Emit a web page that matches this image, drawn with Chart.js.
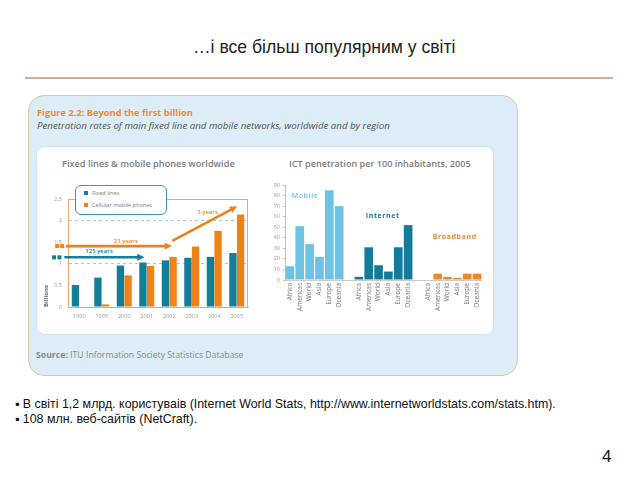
<!DOCTYPE html>
<html>
<head>
<meta charset="utf-8">
<script src="https://cdn.jsdelivr.net/npm/chart.js@4"></script>
<style>
  html, body { margin: 0; padding: 0; background: #fff; }
  body { width: 640px; height: 480px; position: relative; overflow: hidden; font-family: "Liberation Sans", Arial, sans-serif; }
  .abs { position: absolute; white-space: nowrap; }
  .fig { font-family: "Open Sans", sans-serif; }
  canvas { position: absolute; }
</style>
</head>
<body>
<div class="abs" style="left:193px;top:37px;font-size:17.6px;color:#222;">…і все більш популярним у світі</div>
<div class="abs" style="left:25px;top:77px;width:588px;height:2px;background:#dca79b;"></div>

<div class="abs" style="left:28px;top:95px;width:488px;height:279px;background:#dcedf7;border:1px solid #dacbab;border-radius:16px;"></div>
<div class="abs fig" style="left:37px;top:106px;font-size:9.3px;font-weight:700;color:#ee8c3a;">Figure 2.2: Beyond the first billion</div>
<div class="abs fig" style="left:37px;top:119px;font-size:9.7px;font-style:italic;color:#555;">Penetration rates of main fixed line and mobile networks, worldwide and by region</div>
<div class="abs" style="left:36px;top:146px;width:456px;height:187px;background:#fff;border:1px solid #cfe3ee;border-radius:9px;"></div>
<div class="abs fig" style="left:62px;top:157px;font-size:9.2px;font-weight:600;color:#7d7d7d;">Fixed lines &amp; mobile phones worldwide</div>
<div class="abs fig" style="left:289px;top:157px;font-size:9.1px;font-weight:600;color:#7d7d7d;">ICT penetration per 100 inhabitants, 2005</div>
<div class="abs fig" style="left:36px;top:349px;font-size:8.7px;color:#8a8a8a;"><b>Source:</b> ITU Information Society Statistics Database</div>

<canvas id="leftChart" width="224" height="140" style="left:36px;top:185px;"></canvas>
<canvas id="rightChart" width="222" height="155" style="left:266px;top:175px;"></canvas>

<div class="abs fig" style="left:75px;top:185px;width:90px;height:28px;background:#fff;border:1px solid #3c98ae;border-radius:6px;font-size:5.6px;color:#777;">
  <div class="abs" style="left:8px;top:5px;width:4px;height:4px;background:#127f98;"></div>
  <div class="abs" style="left:16px;top:3px;">Fixed lines</div>
  <div class="abs" style="left:8px;top:17px;width:4px;height:4px;background:#ef8216;"></div>
  <div class="abs" style="left:16px;top:15px;">Cellular mobile phones</div>
</div>

<div class="abs" style="left:15px;top:397px;font-size:12.4px;color:#111;">▪ В світі 1,2 млрд. користуваів (Internet World Stats, http://www.internetworldstats.com/stats.htm).</div>
<div class="abs" style="left:15px;top:412px;font-size:12.4px;color:#111;">▪ 108 млн. веб-сайтів (NetCraft).</div>
<div class="abs" style="left:602px;top:447px;font-size:17px;color:#111;">4</div>

<script>
const years = ['1990', '1995', '2000', '2001', '2002', '2003', '2004', '2005'];
const fixedLines = [0.51, 0.68, 0.96, 1.03, 1.08, 1.14, 1.16, 1.25];
const mobilePhones = [0.01, 0.06, 0.73, 0.95, 1.16, 1.40, 1.76, 2.14];
const billionTicks = [0, 0.5, 1, 1.5, 2, 2.5];

const regions = ['Africa', 'Americas', 'World', 'Asia', 'Europe', 'Oceania'];
const mobilePer100 = [13, 51, 34, 22, 85, 70];
const internetPer100 = [3, 31, 14, 8, 31, 52];
const broadbandPer100 = [0, 6, 3, 2, 6, 6];
const per100Ticks = [0, 10, 20, 30, 40, 50, 60, 70, 80, 90];

const TEAL = '#127f98';
const ORANGE = '#ef8216';
const FONT = 'Open Sans';

Chart.defaults.font.family = FONT;
Chart.defaults.color = '#888';

const arrow = (ctx, x1, y1, x2, y2, color) => {
  const ang = Math.atan2(y2 - y1, x2 - x1);
  const head = 8;
  ctx.strokeStyle = color;
  ctx.fillStyle = color;
  ctx.lineWidth = 2.6;
  ctx.beginPath();
  ctx.moveTo(x1, y1);
  ctx.lineTo(x2 - Math.cos(ang) * head * 0.8, y2 - Math.sin(ang) * head * 0.8);
  ctx.stroke();
  ctx.beginPath();
  ctx.moveTo(x2, y2);
  ctx.lineTo(x2 - head * Math.cos(ang - 0.45), y2 - head * Math.sin(ang - 0.45));
  ctx.lineTo(x2 - head * Math.cos(ang + 0.45), y2 - head * Math.sin(ang + 0.45));
  ctx.closePath();
  ctx.fill();
};

const leftDecor = {
  id: 'leftDecor',
  beforeDatasetsDraw(chart) {
    const { ctx, scales: { y }, chartArea: a } = chart;
    ctx.save();
    ctx.strokeStyle = '#f2a566';
    ctx.lineWidth = 1;
    ctx.beginPath();
    ctx.moveTo(a.left, y.getPixelForValue(2.5) + 0.5);
    ctx.lineTo(a.right, y.getPixelForValue(2.5) + 0.5);
    ctx.moveTo(a.right - 0.5, a.top);
    ctx.lineTo(a.right - 0.5, a.bottom);
    ctx.stroke();
    ctx.restore();
  },
  afterDatasetsDraw(chart) {
    const { ctx, scales: { x, y } } = chart;
    ctx.save();
    // 125 years
    const yt = y.getPixelForValue(1.15);
    ctx.fillStyle = TEAL;
    [-1.12, -0.88].forEach(i => ctx.fillRect(x.getPixelForValue(i) - 2, yt - 2, 4, 4));
    arrow(ctx, x.getPixelForValue(-0.66), yt, x.getPixelForValue(2.9), yt, TEAL);
    // 21 years
    const yo = y.getPixelForValue(1.41);
    ctx.fillStyle = ORANGE;
    [-0.98, -0.76].forEach(i => ctx.fillRect(x.getPixelForValue(i) - 2, yo - 2, 4, 4));
    arrow(ctx, x.getPixelForValue(-0.6), yo, x.getPixelForValue(4.12), yo, ORANGE);
    // 3 years
    arrow(ctx, x.getPixelForValue(4.13), y.getPixelForValue(1.53), x.getPixelForValue(7.02), y.getPixelForValue(2.33), ORANGE);

    ctx.font = '600 6px ' + FONT;
    ctx.textAlign = 'center';
    ctx.textBaseline = 'middle';
    ctx.fillStyle = TEAL;
    ctx.fillText('125 years', x.getPixelForValue(0.88), y.getPixelForValue(1.28));
    ctx.fillStyle = ORANGE;
    ctx.fillText('21 years', x.getPixelForValue(2.07), y.getPixelForValue(1.52));
    ctx.fillText('3 years', x.getPixelForValue(5.7), y.getPixelForValue(2.2));
    ctx.restore();
  }
};

new Chart(document.getElementById('leftChart'), {
  type: 'bar',
  data: {
    labels: years,
    datasets: [
      { label: 'Fixed lines', data: fixedLines, backgroundColor: TEAL },
      { label: 'Cellular mobile phones', data: mobilePhones, backgroundColor: ORANGE }
    ]
  },
  options: {
    responsive: false,
    animation: false,
    devicePixelRatio: 1,
    layout: { padding: { left: 7, right: 12, top: 14, bottom: 0 } },
    datasets: { bar: { categoryPercentage: 0.68, barPercentage: 0.96 } },
    plugins: { legend: { display: false }, tooltip: { enabled: false } },
    scales: {
      x: {
        grid: { display: false, drawTicks: false },
        border: { color: '#f2a566' },
        ticks: { font: { size: 5.5 }, color: '#999', padding: 6 },
        afterFit: s => { s.height = 18; }
      },
      y: {
        min: 0, max: 2.5,
        afterBuildTicks: s => { s.ticks = billionTicks.map(v => ({ value: v })); },
        ticks: { font: { size: 5.5 }, color: '#999', padding: 6, callback: v => String(v) },
        grid: {
          drawTicks: false,
          color: c => (c.tick && (c.tick.value === 1 || c.tick.value === 2)) ? '#9fcbd8' : 'rgba(0,0,0,0)'
        },
        border: { color: '#f2a566', dash: [3, 3] },
        title: { display: true, text: 'Billions', align: 'start', font: { size: 6, weight: '700' }, color: '#666', padding: 0 },
        afterFit: s => { s.width = 25; }
      }
    }
  },
  plugins: [leftDecor]
});

const gap = [''];
const slotLabels = [...regions, ...gap, ...regions, ...gap, ...regions];
const placeGroup = (vals, group) => slotLabels.map((_, i) => {
  const start = group * 7;
  return (i >= start && i < start + 6) ? vals[i - start] : null;
});

const rightDecor = {
  id: 'rightDecor',
  afterDatasetsDraw(chart) {
    const { ctx, scales: { x, y } } = chart;
    ctx.save();
    ctx.font = '600 7px ' + FONT;
    ctx.textBaseline = 'middle';
    ctx.fillStyle = '#6cc3e4';
    ctx.letterSpacing = '0.6px';
    ctx.fillText('Mobile', x.getPixelForValue(0.18), y.getPixelForValue(79.5));
    ctx.font = '700 7px ' + FONT;
    ctx.fillStyle = '#1b7895';
    ctx.fillText('Internet', x.getPixelForValue(7.7), y.getPixelForValue(61));
    ctx.fillStyle = '#ee8a2a';
    ctx.fillText('Broadband', x.getPixelForValue(14.5), y.getPixelForValue(40.5));
    ctx.restore();
  }
};

new Chart(document.getElementById('rightChart'), {
  type: 'bar',
  data: {
    labels: slotLabels,
    datasets: [
      { label: 'Mobile', data: placeGroup(mobilePer100, 0), backgroundColor: '#6cc3e4' },
      { label: 'Internet', data: placeGroup(internetPer100, 1), backgroundColor: '#137b9b' },
      { label: 'Broadband', data: placeGroup(broadbandPer100, 2), backgroundColor: '#ef8a22' }
    ]
  },
  options: {
    responsive: false,
    animation: false,
    devicePixelRatio: 1,
    layout: { padding: { left: 0, right: 6, top: 10, bottom: 0 } },
    datasets: { bar: { categoryPercentage: 1, barPercentage: 0.88 } },
    plugins: { legend: { display: false }, tooltip: { enabled: false } },
    scales: {
      x: {
        stacked: true,
        grid: { display: false, drawTicks: false },
        border: { color: '#cccccc' },
        ticks: { font: { size: 6.5 }, color: '#777', minRotation: 90, maxRotation: 90, autoSkip: false, padding: 3 },
        afterFit: s => { s.height = 50; }
      },
      y: {
        stacked: true,
        min: 0, max: 90,
        afterBuildTicks: s => { s.ticks = per100Ticks.map(v => ({ value: v })); },
        ticks: { font: { size: 5.5 }, color: '#999', padding: 3 },
        grid: { drawOnChartArea: false, drawTicks: true, tickLength: 2, color: '#e9b98a' },
        border: { color: '#e9b98a' },
        afterFit: s => { s.width = 19; }
      }
    }
  },
  plugins: [rightDecor]
});
</script>
</body>
</html>
